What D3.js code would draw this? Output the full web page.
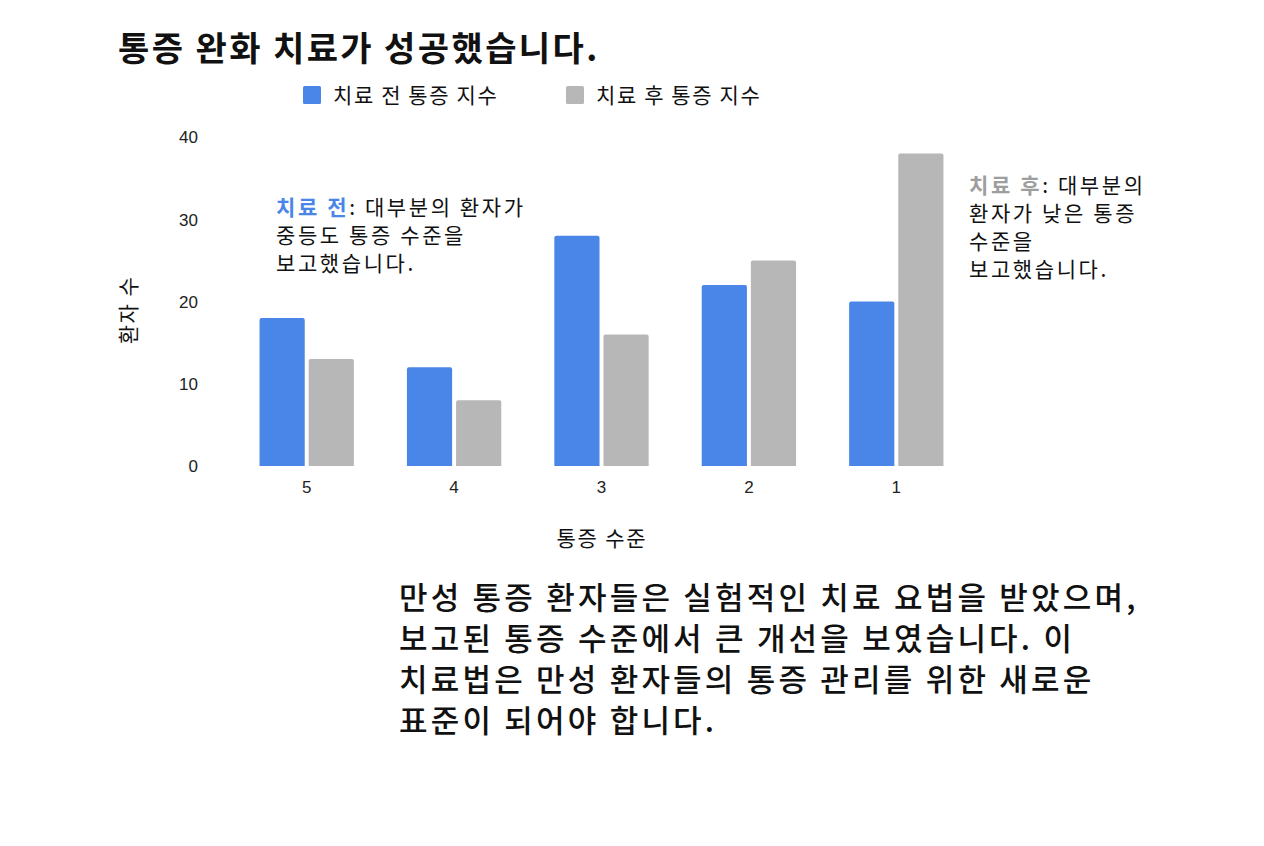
<!DOCTYPE html>
<html>
<head>
<meta charset="utf-8">
<script src="https://cdn.jsdelivr.net/npm/d3@7"></script>
<style>
  body { margin: 0; background: #fff; }
  text { font-family: "Noto Sans CJK KR", "Noto Sans", sans-serif; fill: #111; }
  .tick text { font-family: "Liberation Sans", Arial, sans-serif; font-size: 17px; fill: #222; letter-spacing: 0; }
</style>
</head>
<body>
<script>
// ---- data ----
var levels = ["5", "4", "3", "2", "1"];
var series = ["치료 전 통증 지수", "치료 후 통증 지수"];
var before = [18, 12, 28, 22, 20];
var after = [13, 8, 16, 25, 38];
var yTicks = [0, 10, 20, 30, 40];
var colors = ["#4a86e8", "#b7b7b7"];

var title = "통증 완화 치료가 성공했습니다.";
var noteBefore = ["치료 전", ": 대부분의 환자가", "중등도 통증 수준을", "보고했습니다."];
var noteAfter = ["치료 후", ": 대부분의", "환자가 낮은 통증", "수준을", "보고했습니다."];
var paragraph = [
  "만성 통증 환자들은 실험적인 치료 요법을 받았으며,",
  "보고된 통증 수준에서 큰 개선을 보였습니다. 이",
  "치료법은 만성 환자들의 통증 관리를 위한 새로운",
  "표준이 되어야 합니다."
];

var rows = levels.map(function(l, i) { return { level: l, values: [before[i], after[i]] }; });

var W = 1264, H = 846;
var svg = d3.select("body").append("svg").attr("width", W).attr("height", H);

// scales
var x0 = d3.scaleBand().domain(levels).range([233, 970]).paddingInner(0.36).paddingOuter(0.18);
var x1 = d3.scaleBand().domain([0, 1]).range([0, x0.bandwidth()]).paddingInner(0.08);
var y = d3.scaleLinear().domain([0, 40]).range([466, 137]);

// title
svg.append("text").attr("x", 118).attr("y", 61)
  .style("font-size", "34px").style("font-weight", 700).style("letter-spacing", "2.4px").text(title);

// legend
var lg = svg.selectAll(".lg").data(series).join("g")
  .attr("transform", function(d, i) { return "translate(" + (i === 0 ? 303 : 566) + ",86)"; });
lg.append("rect").attr("width", 18).attr("height", 18).attr("rx", 1.5)
  .attr("fill", function(d, i) { return colors[i]; });
lg.append("text").attr("x", 30).attr("y", 17).style("font-size", "21px").style("letter-spacing", "1.6px")
  .text(function(d) { return d; });

// y axis (labels only)
var yAxis = svg.append("g").attr("transform", "translate(198,0)")
  .call(d3.axisLeft(y).tickValues(yTicks).tickSize(0).tickPadding(0));
yAxis.select(".domain").remove();
yAxis.selectAll(".tick text").attr("dy", "0.35em");

// x axis (labels only)
var xAxis = svg.append("g").attr("transform", "translate(0,478)")
  .call(d3.axisBottom(x0).tickSize(0).tickPadding(0));
xAxis.select(".domain").remove();
xAxis.selectAll(".tick text").attr("dy", "0.9em");

// axis titles
svg.append("text").attr("transform", "translate(136,310) rotate(-90)")
  .attr("text-anchor", "middle").style("font-size", "21px").style("letter-spacing", "1.5px").text("환자 수");
svg.append("text").attr("x", 602).attr("y", 546)
  .attr("text-anchor", "middle").style("font-size", "21px").style("letter-spacing", "1.8px").text("통증 수준");

// bars
var groups = svg.selectAll(".grp").data(rows).join("g")
  .attr("transform", function(d) { return "translate(" + x0(d.level) + ",0)"; });
groups.selectAll("path").data(function(d) { return d.values; }).join("path")
  .attr("fill", function(d, i) { return colors[i]; })
  .attr("d", function(d, i) {
    var bx = x1(i), bw = x1.bandwidth(), top = y(d), bot = y(0), r = 2;
    return "M" + bx + "," + bot + "V" + (top + r) + "Q" + bx + "," + top + " " + (bx + r) + "," + top +
      "H" + (bx + bw - r) + "Q" + (bx + bw) + "," + top + " " + (bx + bw) + "," + (top + r) + "V" + bot + "Z";
  });

// annotations: one text block, lines as tspans
function note(lines, x, yy, lh, col) {
  var t = svg.append("text").attr("x", x).attr("y", yy).style("font-size", "21px").style("letter-spacing", "2.6px");
  t.append("tspan").style("font-weight", 700).style("fill", col).text(lines[0]);
  t.append("tspan").text(lines[1]);
  lines.slice(2).forEach(function(l) {
    t.append("tspan").attr("x", x).attr("dy", lh).text(l);
  });
}
note(noteBefore, 276, 215, 28, colors[0]);
note(noteAfter, 969, 193, 28, "#9e9e9e");

// bottom paragraph
var para = svg.append("text").attr("x", 399).attr("y", 609)
  .style("font-size", "31px").style("font-weight", 500).style("letter-spacing", "3.2px");
para.selectAll("tspan").data(paragraph).join("tspan")
  .attr("x", 399).attr("dy", function(d, i) { return i === 0 ? 0 : 41; })
  .text(function(d) { return d; });
</script>
</body>
</html>
